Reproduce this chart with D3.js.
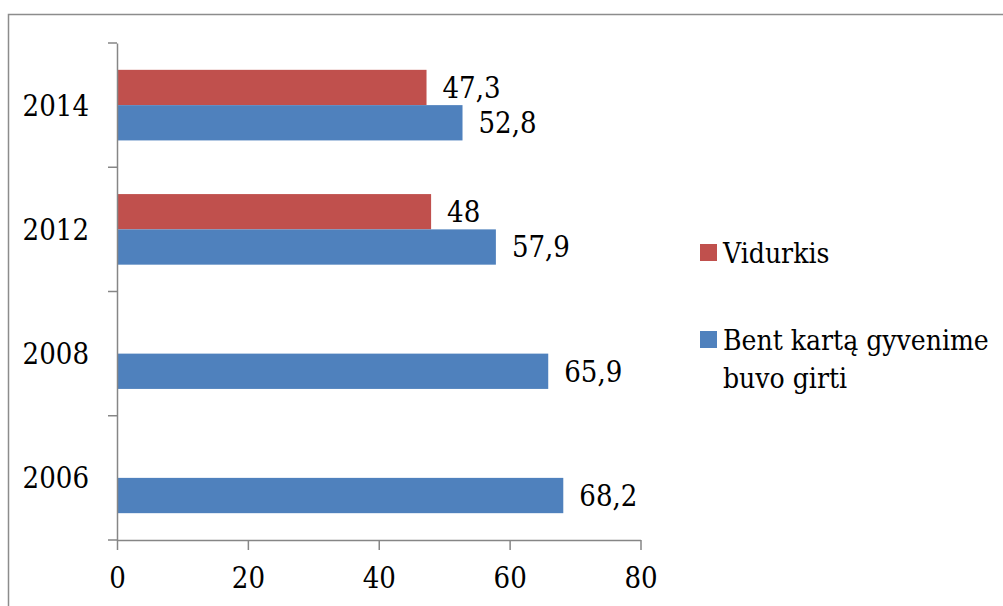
<!DOCTYPE html>
<html>
<head>
<meta charset="utf-8">
<script src="https://cdn.jsdelivr.net/npm/d3@7"></script>
<style>
  body { margin: 0; background: #fff; }
  svg text { fill: #000; }
</style>
</head>
<body>
<div id="chart"></div>
<script>
// Chart data
var years = ["2006", "2008", "2012", "2014"];
var seriesNames = ["Vidurkis", "Bent kartą gyvenime buvo girti"];
var vidurkis = [null, null, 48, 47.3];
var bentKarta = [68.2, 65.9, 57.9, 52.8];
var xTicks = [0, 20, 40, 60, 80];
var colors = ["#c0504d", "#4f81bd"];

var W = 1003, H = 606;
var margin = { top: 43, left: 117 },
    width = 523.5,
    height = 497;
var FONT = "'DejaVu Serif Condensed', 'DejaVu Serif', serif";

var svg = d3.select("#chart").append("svg")
    .attr("width", W)
    .attr("height", H)
    .style("font-family", FONT)
    .style("font-stretch", "condensed");

// outer frame (right and bottom edges fall outside the picture)
svg.append("rect")
    .attr("x", 8.5).attr("y", 14.5)
    .attr("width", 1000).attr("height", 600)
    .attr("fill", "none")
    .attr("stroke", "#8c8c8c")
    .attr("stroke-width", 1.5);

var g = svg.append("g")
    .attr("transform", "translate(" + margin.left + "," + margin.top + ")");

var x = d3.scaleLinear().domain([0, 80]).range([0, width]);

// 2014 at the top
var y0 = d3.scaleBand()
    .domain(years.slice().reverse())
    .range([0, height])
    .padding(0);

var y1 = d3.scaleBand()
    .domain(seriesNames)
    .range([0, y0.bandwidth()])
    .paddingInner(0)
    .paddingOuter(0.76);

var rows = years.map(function (yr, i) {
    return { year: yr, values: [vidurkis[i], bentKarta[i]] };
});

// bars
var groups = g.selectAll(".grp")
    .data(rows)
    .enter().append("g")
    .attr("class", "grp")
    .attr("transform", function (d) { return "translate(0," + y0(d.year) + ")"; });

var cells = groups.selectAll(".cell")
    .data(function (d) {
        return d.values.map(function (v, j) { return { name: seriesNames[j], value: v, j: j }; })
            .filter(function (c) { return c.value != null; });
    })
    .enter().append("g")
    .attr("class", "cell");

cells.append("rect")
    .attr("x", 0)
    .attr("y", function (d) { return y1(d.name); })
    .attr("width", function (d) { return x(d.value); })
    .attr("height", y1.bandwidth())
    .attr("fill", function (d) { return colors[d.j]; });

cells.append("text")
    .attr("x", function (d) { return x(d.value) + 16; })
    .attr("y", function (d) { return y1(d.name) + y1.bandwidth() / 2; })
    .attr("dy", "0.36em")
    .style("font-size", "29px")
    .text(function (d) { return String(d.value).replace(".", ","); });

// y axis
var yAxis = d3.axisLeft(y0).tickSizeOuter(0).tickSize(0).tickFormat("");
var yg = g.append("g").call(yAxis);
yg.select(".domain").attr("stroke", "#868686").attr("stroke-width", 1.5);
// boundary tick marks between categories
g.selectAll(".ytick")
    .data(d3.range(years.length + 1))
    .enter().append("line")
    .attr("class", "ytick")
    .attr("x1", -9).attr("x2", 0)
    .attr("y1", function (i) { return i * y0.step(); })
    .attr("y2", function (i) { return i * y0.step(); })
    .attr("stroke", "#868686")
    .attr("stroke-width", 1.5);

g.selectAll(".ylabel")
    .data(years)
    .enter().append("text")
    .attr("class", "ylabel")
    .attr("x", -28)
    .attr("y", function (d) { return y0(d) + y0.bandwidth() / 2; })
    .attr("dy", "0.36em")
    .attr("text-anchor", "end")
    .style("font-size", "29px")
    .text(function (d) { return d; });

// x axis
var xAxis = d3.axisBottom(x).tickValues(xTicks).tickSize(10).tickSizeOuter(0);
var xg = g.append("g")
    .attr("transform", "translate(0," + height + ")")
    .call(xAxis)
    .attr("font-family", null);
xg.select(".domain").attr("stroke", "#868686").attr("stroke-width", 1.5);
xg.selectAll(".tick line").attr("stroke", "#868686").attr("stroke-width", 1.5);
xg.selectAll(".tick text")
    .attr("y", 48)
    .attr("dy", 0)
    .style("font-size", "29px")
    .attr("fill", "#000");

// legend
var legend = svg.append("g").attr("transform", "translate(700,0)");
var legendRows = [
    { lines: ["Vidurkis"], top: 244, c: colors[0] },
    { lines: ["Bent kartą gyvenime", "buvo girti"], top: 331, c: colors[1] }
];
var li = legend.selectAll(".lg")
    .data(legendRows)
    .enter().append("g")
    .attr("class", "lg");
li.append("rect")
    .attr("x", 0)
    .attr("y", function (d) { return d.top; })
    .attr("width", 17).attr("height", 17)
    .attr("fill", function (d) { return d.c; });
li.each(function (d) {
    var t = d3.select(this).append("text")
        .attr("x", 23)
        .attr("y", d.top + 19)
        .style("font-size", "28px");
    d.lines.forEach(function (s, k) {
        t.append("tspan").attr("x", 23).attr("dy", k === 0 ? 0 : 38).text(s);
    });
});
</script>
</body>
</html>
